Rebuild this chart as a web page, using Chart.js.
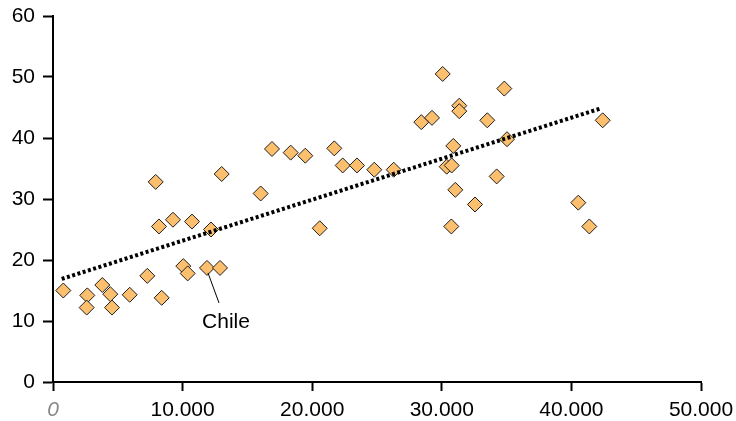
<!DOCTYPE html>
<html>
<head>
<meta charset="utf-8">
<script src="https://cdn.jsdelivr.net/npm/chart.js@4.4.1/dist/chart.umd.min.js"></script>
<style>
  html, body { margin: 0; padding: 0; background: #fff; }
  #wrap { width: 736px; height: 421px; }
</style>
</head>
<body>
<div id="wrap"><canvas id="chart"></canvas></div>
<script>
// Income per head (x) against the indicator (y), one point per country
const incomeX = [795, 2647, 2600, 3804, 4421, 4552, 5918, 7276, 7924, 8179,
    8387, 9259, 10054, 10393, 10725, 12191, 11883, 12886, 13017, 16026,
    16898, 18341, 19468, 20579, 21705, 22353, 23457, 24792, 26288, 28418,
    29244, 30069, 30378, 30764, 30887, 31041, 30733, 31350, 31350, 32562,
    33511, 34236, 34823, 35031, 40532, 41381, 42415];
const valueY = [15.0, 14.2, 12.2, 15.9, 14.4, 12.2, 14.3, 17.4, 32.8, 25.5,
    13.8, 26.6, 19.0, 17.8, 26.3, 25.0, 18.7, 18.7, 34.1, 30.9,
    38.2, 37.6, 37.1, 25.2, 38.3, 35.5, 35.5, 34.8, 34.8, 42.6,
    43.3, 50.5, 35.3, 35.5, 38.7, 31.5, 25.5, 45.3, 44.4, 29.1,
    42.9, 33.7, 48.1, 39.8, 29.4, 25.5, 42.9];

// Linear trend, start and end
const trendX = [671, 42338];
const trendY = [16.9, 44.9];

// Labelled country
const labelName = 'Chile';
const labelIndex = 16;

const xTicks = [0, 10000, 20000, 30000, 40000, 50000];
const yTicks = [0, 10, 20, 30, 40, 50, 60];

const FONT = 'Liberation Sans, Arial, Helvetica, sans-serif';

const points = incomeX.map((x, i) => ({ x: x, y: valueY[i] }));
const trend = trendX.map((x, i) => ({ x: x, y: trendY[i] }));

// Draw the country label with a leader line
const labelPlugin = {
    id: 'countryLabel',
    afterDatasetsDraw(chart) {
        const el = chart.getDatasetMeta(1).data[labelIndex];
        if (!el) return;
        const ctx = chart.ctx;
        ctx.save();
        ctx.strokeStyle = '#000';
        ctx.lineWidth = 1;
        ctx.beginPath();
        ctx.moveTo(el.x + 1, el.y + 5);
        ctx.lineTo(el.x + 12, el.y + 35);
        ctx.stroke();
        ctx.fillStyle = '#000';
        ctx.font = '21px ' + FONT;
        ctx.textAlign = 'center';
        ctx.textBaseline = 'middle';
        ctx.fillText(labelName, el.x + 19, el.y + 54);
        ctx.restore();
    }
};

new Chart(document.getElementById('chart').getContext('2d'), {
    data: {
        datasets: [
            {
                type: 'line',
                data: trend,
                borderColor: '#000',
                borderWidth: 4,
                borderDash: [3, 2.5],
                borderCapStyle: 'butt',
                pointRadius: 0,
                fill: false
            },
            {
                type: 'scatter',
                data: points,
                pointStyle: 'rectRot',
                pointRadius: 7.5,
                backgroundColor: '#fbbf6e',
                borderColor: '#1e1e1e',
                borderWidth: 1
            }
        ]
    },
    options: {
        responsive: true,
        maintainAspectRatio: false,
        animation: false,
        layout: { padding: { top: 16, right: 35, left: 0, bottom: 0 } },
        plugins: {
            legend: { display: false },
            tooltip: { enabled: false }
        },
        scales: {
            x: {
                type: 'linear',
                min: 0,
                max: 50000,
                afterBuildTicks: (scale) => { scale.ticks = xTicks.map(v => ({ value: v })); },
                afterFit: (scale) => {
                    scale.height = 39;
                    scale.paddingLeft = 0;
                    scale.paddingRight = 0;
                },
                border: { display: true, color: '#000', width: 2 },
                grid: { drawOnChartArea: false, drawTicks: true, tickLength: 9, tickWidth: 2, tickColor: '#000' },
                ticks: {
                    padding: 7,
                    maxRotation: 0,
                    color: (c) => c.tick && c.tick.value === 0 ? '#888' : '#000',
                    font: (c) => c.tick && c.tick.value === 0
                        ? { family: FONT, size: 21, style: 'italic', weight: 'lighter' }
                        : { family: FONT, size: 21 },
                    callback: (v) => v.toLocaleString('de-DE')
                }
            },
            y: {
                min: 0,
                max: 60,
                afterBuildTicks: (scale) => { scale.ticks = yTicks.map(v => ({ value: v })); },
                afterFit: (scale) => {
                    scale.width = 53;
                    scale.paddingTop = 0;
                    scale.paddingBottom = 0;
                },
                border: { display: true, color: '#000', width: 2 },
                grid: { drawOnChartArea: false, drawTicks: true, tickLength: 10, tickWidth: 2, tickColor: '#000' },
                ticks: {
                    padding: 8,
                    color: '#000',
                    font: { family: FONT, size: 21 }
                }
            }
        }
    },
    plugins: [labelPlugin]
});
</script>
</body>
</html>
